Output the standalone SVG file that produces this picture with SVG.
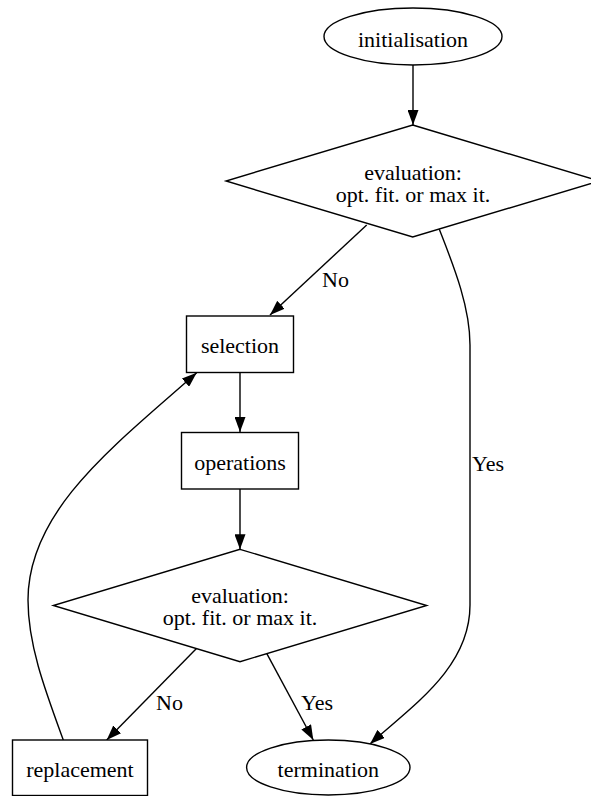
<svg xmlns="http://www.w3.org/2000/svg" width="591" height="796" viewBox="0 0 591 796">
  <defs>
    <style>
      .shape { fill: #ffffff; stroke: #000000; stroke-width: 1.4; }
      .edge { fill: none; stroke: #000000; stroke-width: 1.4; }
      text { font-family: "Liberation Serif", "Times New Roman", serif; font-size: 22px; fill: #000000; }
      .c { text-anchor: middle; }
    </style>
    <marker id="arrow" viewBox="0 0 15 11" refX="15" refY="5.5" markerWidth="15" markerHeight="11" markerUnits="userSpaceOnUse" orient="auto">
      <path d="M0,0 L15,5.5 L0,11 Z" fill="#000000"/>
    </marker>
  </defs>
  <rect x="0" y="0" width="591" height="796" fill="#ffffff"/>

  <!-- connectors -->
  <g id="edges">
    <path class="edge" d="M413,65 L413,125" marker-end="url(#arrow)"/>
    <path class="edge" d="M366.7,225 L270,315" marker-end="url(#arrow)"/>
    <path class="edge" d="M439.3,229.3 C452,262 470,305 470,345 L470,605 C470,668 412,706 370,744" marker-end="url(#arrow)"/>
    <path class="edge" d="M240,372.5 L240,432" marker-end="url(#arrow)"/>
    <path class="edge" d="M240,489 L240,549.3" marker-end="url(#arrow)"/>
    <path class="edge" d="M196.7,648.3 L106.7,740" marker-end="url(#arrow)"/>
    <path class="edge" d="M266.7,653.3 L313.3,740" marker-end="url(#arrow)"/>
    <path class="edge" d="M63.3,740 C45,690 28,645 28,600 C28,510 115,445 196.7,372.7" marker-end="url(#arrow)"/>
    <text x="322" y="287">No</text>
    <text x="472" y="471">Yes</text>
    <text x="156" y="710">No</text>
    <text x="301" y="710">Yes</text>
  </g>

  <!-- nodes -->
  <g id="initialisation">
    <ellipse class="shape" cx="413" cy="36.5" rx="89" ry="28.5"/>
    <text class="c" x="413" y="46.5">initialisation</text>
  </g>
  <g id="evaluation1">
    <polygon class="shape" points="412.7,125 599.4,181 412.7,237 226,181"/>
    <text class="c" x="413" y="180">evaluation:</text>
    <text class="c" x="413" y="202">opt. fit. or max it.</text>
  </g>
  <g id="selection">
    <rect class="shape" x="186.5" y="316" width="107" height="56.5"/>
    <text class="c" x="240" y="353">selection</text>
  </g>
  <g id="operations">
    <rect class="shape" x="181.5" y="432.5" width="117" height="56.5"/>
    <text class="c" x="240" y="470">operations</text>
  </g>
  <g id="evaluation2">
    <polygon class="shape" points="240,549.3 426.7,605.5 240,661.7 53.3,605.5"/>
    <text class="c" x="240" y="603">evaluation:</text>
    <text class="c" x="240" y="625">opt. fit. or max it.</text>
  </g>
  <g id="replacement">
    <rect class="shape" x="12.5" y="740" width="135" height="55.5"/>
    <text class="c" x="80" y="776.7">replacement</text>
  </g>
  <g id="termination">
    <ellipse class="shape" cx="328.3" cy="767.5" rx="81.7" ry="27.5"/>
    <text class="c" x="328.3" y="776.7">termination</text>
  </g>
</svg>
